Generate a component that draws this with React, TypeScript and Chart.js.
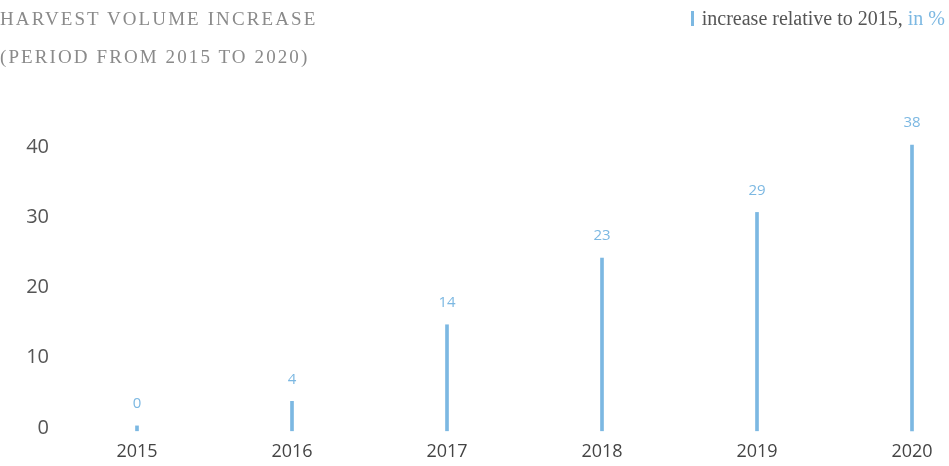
import React, { useEffect, useRef } from "react";
import { Chart, registerables } from "chart.js";

Chart.register(...registerables);

const years = ["2015", "2016", "2017", "2018", "2019", "2020"];
const barValues = [0.3, 3.8, 14.7, 24.2, 30.7, 40.3];
const labelValues = ["0", "4", "14", "23", "29", "38"];
const yTicks = [0, 10, 20, 30, 40];

const BLUE = "#7cb8e2";

const valueLabels = {
  id: "valueLabels",
  afterDatasetsDraw(chart: any) {
    const ctx = chart.ctx;
    const meta = chart.getDatasetMeta(0);
    ctx.save();
    ctx.fillStyle = BLUE;
    ctx.font = "15px 'Open Sans'";
    ctx.textAlign = "center";
    ctx.textBaseline = "middle";
    meta.data.forEach((el: any, i: number) => {
      ctx.fillText(labelValues[i], el.x, el.y - 22);
    });
    ctx.restore();
  },
};

export default function App() {
  const ref = useRef<HTMLCanvasElement | null>(null);
  useEffect(() => {
    if (!ref.current) return;
    const chart = new Chart(ref.current, {
      type: "bar",
      data: {
        labels: years,
        datasets: [
          {
            data: barValues,
            backgroundColor: BLUE,
            barThickness: 3,
            base: -0.4,
            clip: false,
          } as any,
        ],
      },
      options: {
        responsive: true,
        maintainAspectRatio: false,
        animation: false,
        layout: { padding: { left: 0, right: 37, top: 112, bottom: 0 } },
        plugins: { legend: { display: false }, tooltip: { enabled: false } },
        scales: {
          x: {
            offset: false,
            grid: { display: false, drawTicks: false },
            border: { display: false },
            ticks: {
              color: "#444",
              font: { family: "'Open Sans'", size: 18 },
              padding: 10,
              maxRotation: 0,
              autoSkip: false,
            },
            afterFit: (axis: any) => {
              axis.height = 34.5;
            },
          },
          y: {
            min: -0.5,
            max: 45,
            grid: { display: false, drawTicks: false },
            border: { display: false },
            ticks: {
              stepSize: 10,
              color: "#555",
              font: { family: "'Open Sans'", size: 20 },
              padding: 88,
            },
            afterBuildTicks: (axis: any) => {
              axis.ticks = yTicks.map((v) => ({ value: v }));
            },
            afterFit: (axis: any) => {
              axis.width = 137;
              axis.paddingTop = 0;
              axis.paddingBottom = 0;
            },
          },
        },
      },
      plugins: [valueLabels],
    });
    return () => chart.destroy();
  }, []);

  const serif = "'Liberation Serif', serif";
  return (
    <div style={{ position: "fixed", left: 0, top: 0, width: 949, height: 466, background: "#fff" }}>
      <div style={{ position: "absolute", left: 0, top: 0, width: 949, height: 466 }}>
        <canvas ref={ref} />
      </div>
      <div
        style={{
          position: "absolute",
          left: 0,
          top: 0,
          fontFamily: serif,
          fontSize: 19,
          letterSpacing: 2.1,
          color: "#8a8a8a",
          lineHeight: "38px",
          whiteSpace: "nowrap",
        }}
      >
        <div>HARVEST VOLUME INCREASE</div>
        <div>(PERIOD FROM 2015 TO 2020)</div>
      </div>
      <div
        style={{
          position: "absolute",
          right: 4,
          top: 7,
          fontFamily: serif,
          fontSize: 20,
          color: "#555",
          whiteSpace: "nowrap",
          display: "flex",
          alignItems: "center",
        }}
      >
        <span style={{ display: "inline-block", width: 3, height: 15, background: BLUE, marginRight: 8 }} />
        <span>
          increase relative to 2015, <span style={{ color: BLUE }}>in %</span>
        </span>
      </div>
    </div>
  );
}
